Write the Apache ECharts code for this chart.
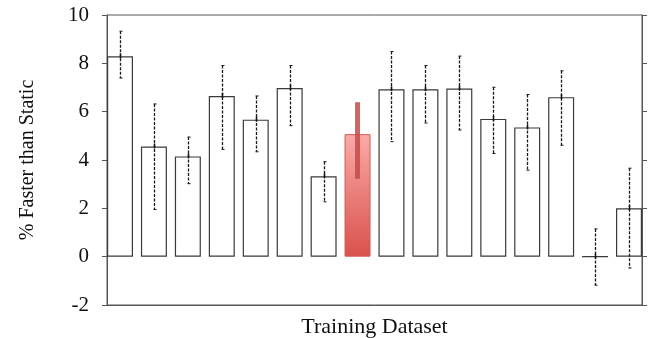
<!DOCTYPE html>
<html>
<head>
<meta charset="utf-8">
<script src="https://cdn.jsdelivr.net/npm/echarts@6/dist/echarts.min.js"></script>
<style>html,body{margin:0;padding:0;background:#fff}#c{width:654px;height:338px}</style>
</head>
<body>
<div id="c"></div>
<script>
// Data
const categories = [1, 2, 3, 4, 5, 6, 7, 8, 9, 10, 11, 12, 13, 14, 15, 16];
const values   = [8.29, 4.56, 4.15, 6.65, 5.67, 6.98, 3.33, 5.07, 6.93, 6.93, 6.96, 5.70, 5.35, 6.60, 0, 2.0];
const errHigh  = [9.33, 6.32, 4.95, 7.91, 6.65, 7.91, 3.93, 6.39, 8.49, 7.91, 8.30, 7.01, 6.71, 7.69, 1.15, 3.66];
const errLow   = [7.39, 1.95, 3.02, 4.44, 4.34, 5.42, 2.27, 3.22, 4.76, 5.53, 5.24, 4.27, 3.58, 4.61, -1.18, -0.47];
const highlightIndex = 7;
const yTicks = [-2, 0, 2, 4, 6, 8, 10];
const xTitle = 'Training Dataset';
const yTitle = '% Faster than Static';

const FONT = '"Liberation Serif", "DejaVu Serif", serif';
const AX = '#555';

const barData = categories.map((c, i) => {
  const d = { value: [c, values[i]] };
  if (i === highlightIndex) {
    d.itemStyle = {
      color: new echarts.graphic.LinearGradient(0, 0, 0, 1, [
        { offset: 0, color: '#fbaaa7' },
        { offset: 1, color: '#da514c' }
      ]),
      borderColor: '#cf5a55',
      borderWidth: 1
    };
  }
  return d;
});
const errData = categories.map((c, i) => [c, errLow[i], errHigh[i], i === highlightIndex ? 1 : 0, values[i]]);

const chart = echarts.init(document.getElementById('c'), null, { renderer: 'canvas' });
chart.setOption({
  animation: false,
  backgroundColor: '#fff',
  grid: { left: 107, right: 12, top: 15, bottom: 33, show: true, borderColor: AX, borderWidth: 1,
          containLabel: false, outerBoundsMode: 'none' },
  xAxis: {
    type: 'value', min: 0.617, max: 16.383,
    name: xTitle, nameLocation: 'middle', nameGap: 11,
    nameTextStyle: { fontFamily: FONT, fontSize: 22, color: '#111' },
    axisLine: { show: true, onZero: false, lineStyle: { color: AX, width: 1 } },
    axisTick: { show: false }, axisLabel: { show: false }, splitLine: { show: false }
  },
  yAxis: [{
    type: 'value', min: yTicks[0], max: yTicks[yTicks.length - 1], interval: 2,
    name: yTitle, nameLocation: 'middle', nameGap: 69,
    nameTextStyle: { fontFamily: FONT, fontSize: 20, color: '#111' },
    axisLine: { show: true, lineStyle: { color: AX, width: 1 } },
    axisTick: { show: true, inside: false, length: 5, lineStyle: { color: AX } },
    axisLabel: { fontFamily: FONT, fontSize: 21, color: '#111', margin: 18 },
    splitLine: { show: false }
  }, {
    type: 'value', position: 'right', min: yTicks[0], max: yTicks[yTicks.length - 1], interval: 2,
    axisLine: { show: true, lineStyle: { color: AX, width: 1 } },
    axisTick: { show: true, inside: false, length: 5, lineStyle: { color: AX } },
    axisLabel: { show: false }, splitLine: { show: false }
  }],
  series: [{
    type: 'bar', barWidth: 26, data: barData,
    itemStyle: { color: '#fff', borderColor: '#3a3a3a', borderWidth: 1.2 },
    z: 2
  }, {
    type: 'custom', z: 5,
    data: errData,
    renderItem: function (params, api) {
      const x = api.value(0);
      const lo = api.coord([x, api.value(1)]);
      const hi = api.coord([x, api.value(2)]);
      const mid = api.coord([x, api.value(4)]);
      if (api.value(3) === 1) {
        return { type: 'line', shape: { x1: hi[0], y1: hi[1], x2: lo[0], y2: lo[1] },
          style: { stroke: 'rgba(198,74,72,0.85)', lineWidth: 5 } };
      }
      const cx = Math.round(hi[0]) + 0.5;
      return { type: 'group', children: [
        { type: 'line', shape: { x1: cx, y1: hi[1], x2: cx, y2: lo[1] },
          style: { stroke: '#1a1a1a', lineWidth: 1.3, lineDash: [3, 1.5] } },
        { type: 'line', shape: { x1: cx - 1, y1: hi[1], x2: cx + 2, y2: hi[1] },
          style: { stroke: '#1a1a1a', lineWidth: 1 } },
        { type: 'line', shape: { x1: cx - 1, y1: lo[1], x2: cx + 2, y2: lo[1] },
          style: { stroke: '#1a1a1a', lineWidth: 1 } },
        { type: 'line', shape: { x1: cx, y1: mid[1] - 3, x2: cx, y2: mid[1] + 2 },
          style: { stroke: '#111', lineWidth: 1.5 } }
      ] };
    }
  }]
});
</script>
</body>
</html>
